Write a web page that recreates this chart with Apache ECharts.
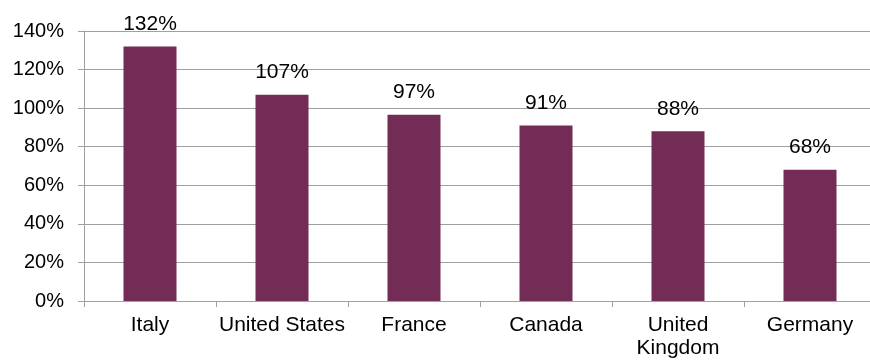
<!DOCTYPE html>
<html><head><meta charset="utf-8">
<script src="https://cdn.jsdelivr.net/npm/echarts@6/dist/echarts.min.js"></script>
<style>html,body{margin:0;padding:0;background:#fff;overflow:hidden;width:870px;height:360px}#c{width:890px;height:360px}</style>
</head><body><div id="c"></div>
<script>
const categories = ["Italy", "United States", "France", "Canada", "United\nKingdom", "Germany"];
const values = [132, 107, 96.6, 91, 88, 68];
const yTicks = [0, 20, 40, 60, 80, 100, 120, 140];

const chart = echarts.init(document.getElementById('c'), null, {renderer: 'canvas'});
const font = '"Liberation Sans", Arial, sans-serif';
chart.setOption({
  animation: false,
  grid: {left: 84, top: 31, width: 792, height: 271, containLabel: false},
  xAxis: {
    type: 'category', data: categories, boundaryGap: true,
    axisLine: {lineStyle: {color: '#a0a0a0', width: 1}},
    axisTick: {show: true, alignWithLabel: false, length: 6, lineStyle: {color: '#a0a0a0'}},
    axisLabel: {color: '#000', fontFamily: font, fontSize: 21, margin: 13, lineHeight: 23, interval: 0}
  },
  yAxis: {
    type: 'value', min: yTicks[0], max: yTicks[yTicks.length - 1], interval: 20,
    axisLine: {show: true, lineStyle: {color: '#a0a0a0', width: 1}},
    axisTick: {show: true, length: 6, lineStyle: {color: '#a0a0a0'}},
    splitLine: {show: true, lineStyle: {color: '#a0a0a0', width: 1}},
    axisLabel: {color: '#000', fontFamily: font, fontSize: 20, margin: 20, formatter: v => v + '%'}
  },
  series: [{
    type: 'bar', data: values, barWidth: 53,
    itemStyle: {color: '#732C56'},
    label: {show: true, position: 'top', distance: 12, color: '#000', fontFamily: font, fontSize: 21,
      formatter: p => Math.round(p.value) + '%'}
  }]
});
</script></body></html>
